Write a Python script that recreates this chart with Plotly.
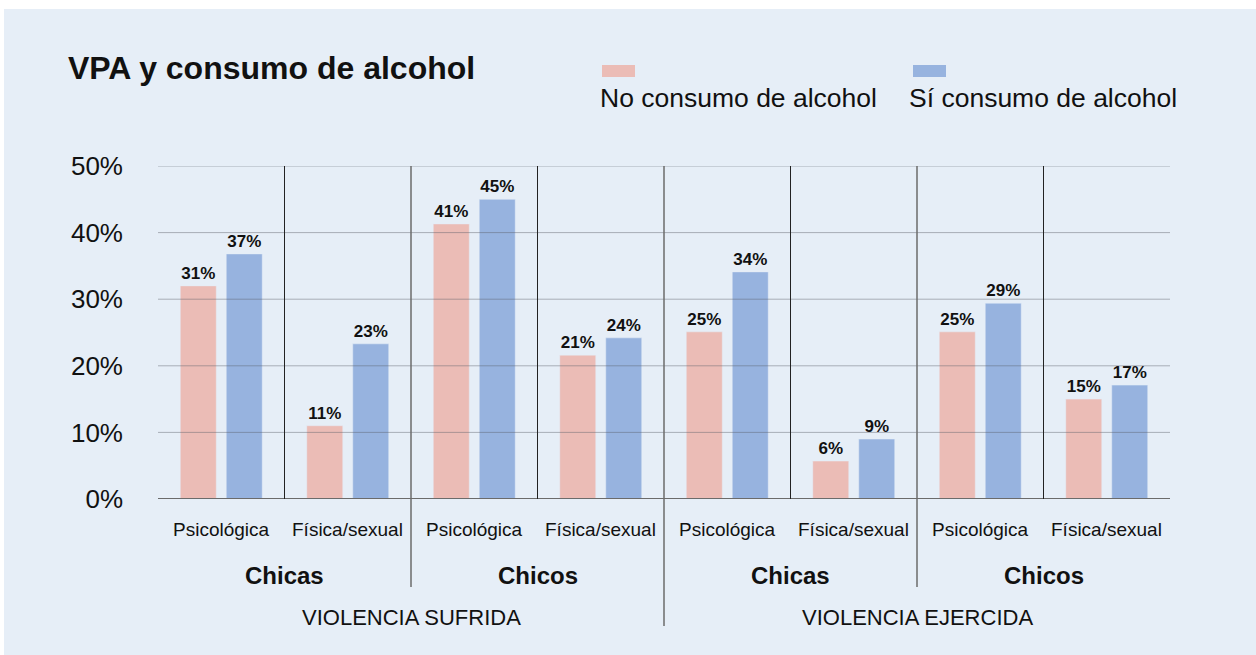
import plotly.graph_objects as go

# ---- data ----
subcategories = ["Psicológica", "Física/sexual"] * 4
genders = ["Chicas", "Chicos", "Chicas", "Chicos"]
violence_types = ["VIOLENCIA SUFRIDA", "VIOLENCIA EJERCIDA"]
series_names = ["No consumo de alcohol", "Sí consumo de alcohol"]

no_values = [32.0, 11.0, 41.3, 21.6, 25.1, 5.7, 25.1, 15.0]
si_values = [36.8, 23.3, 45.0, 24.2, 34.1, 9.0, 29.4, 17.1]
no_labels = ["31%", "11%", "41%", "21%", "25%", "6%", "25%", "15%"]
si_labels = ["37%", "23%", "45%", "24%", "34%", "9%", "29%", "17%"]

y_ticks = [0, 10, 20, 30, 40, 50]
y_ticktext = ["0%", "10%", "20%", "30%", "40%", "50%"]

title_text = "VPA y consumo de alcohol"

# ---- style ----
PINK = "#EBBCB6"
BLUE = "#97B3DF"
BG = "#E6EEF7"
TXT = "#111111"
FONT = "Liberation Sans"

W, H = 1256, 655
L, R, T, B = 158, 86, 166, 156
PW, PH = W - L - R, H - T - B


def px_x(p):
    return (p - L) / PW


def px_y(p):
    return (H - B - p) / PH


xs = list(range(len(subcategories)))

fig = go.Figure()
fig.add_trace(go.Bar(
    x=xs, y=no_values, name=series_names[0], marker_color=PINK,
    text=[f"<b>{t}</b>" for t in no_labels], textposition="outside",
    textfont=dict(size=17, color=TXT, family=FONT), cliponaxis=False,
    showlegend=False,
))
fig.add_trace(go.Bar(
    x=xs, y=si_values, name=series_names[1], marker_color=BLUE,
    text=[f"<b>{t}</b>" for t in si_labels], textposition="outside",
    textfont=dict(size=17, color=TXT, family=FONT), cliponaxis=False,
    showlegend=False,
))

shapes = []
# background panel (white edge on top/left)
shapes.append(dict(type="rect", xref="paper", yref="paper",
                   x0=px_x(4), x1=px_x(W + 5), y0=px_y(H + 5), y1=px_y(9),
                   fillcolor=BG, line=dict(width=0), layer="below"))
# gridlines (drawn over bars)
for v in y_ticks[1:]:
    shapes.append(dict(type="line", xref="paper", yref="y", x0=0, x1=1, y0=v, y1=v,
                       line=dict(color="rgba(90,95,105,0.45)", width=1), layer="above"))
# baseline
shapes.append(dict(type="line", xref="paper", yref="y", x0=0, x1=1, y0=0, y1=0,
                   line=dict(color="#6b6b6b", width=2), layer="above"))
# separators
n = len(subcategories)
for i in range(1, n):
    xb = i - 0.5
    if i % 4 == 0:
        y0 = px_y(626)
        col, w = "#6b6b6b", 1.5
    elif i % 2 == 0:
        y0 = px_y(587)
        col, w = "#6b6b6b", 1.5
    else:
        y0 = 0
        col, w = "#222222", 1
    shapes.append(dict(type="line", xref="x", yref="paper", x0=xb, x1=xb, y0=y0, y1=1,
                       line=dict(color=col, width=w), layer="above"))

# legend swatches
shapes.append(dict(type="rect", xref="paper", yref="paper",
                   x0=px_x(602), x1=px_x(635), y0=px_y(77), y1=px_y(65),
                   fillcolor=PINK, line=dict(width=0)))
shapes.append(dict(type="rect", xref="paper", yref="paper",
                   x0=px_x(913), x1=px_x(946), y0=px_y(77), y1=px_y(65),
                   fillcolor=BLUE, line=dict(width=0)))

annotations = []
# title
annotations.append(dict(text=f"<b>{title_text}</b>", xref="paper", yref="paper",
                        x=px_x(66), y=px_y(68), xanchor="left", yanchor="middle",
                        showarrow=False, font=dict(size=32, color=TXT, family=FONT)))
# legend texts
annotations.append(dict(text=series_names[0], xref="paper", yref="paper",
                        x=px_x(598), y=px_y(98), xanchor="left", yanchor="middle",
                        showarrow=False, font=dict(size=26.5, color=TXT, family=FONT)))
annotations.append(dict(text=series_names[1], xref="paper", yref="paper",
                        x=px_x(907), y=px_y(98), xanchor="left", yanchor="middle",
                        showarrow=False, font=dict(size=26.5, color=TXT, family=FONT)))
# subcategory labels
for i, s in enumerate(subcategories):
    annotations.append(dict(text=s, xref="x", yref="paper", x=i, y=px_y(529),
                            xanchor="center", yanchor="middle", showarrow=False,
                            font=dict(size=19, color=TXT, family=FONT)))
# gender labels
for j, g in enumerate(genders):
    annotations.append(dict(text=f"<b>{g}</b>", xref="x", yref="paper", x=2 * j + 0.5,
                            y=px_y(575), xanchor="center", yanchor="middle", showarrow=False,
                            font=dict(size=24, color=TXT, family=FONT)))
# violence type labels
for k, vt in enumerate(violence_types):
    annotations.append(dict(text=vt, xref="x", yref="paper", x=4 * k + 1.5,
                            y=px_y(617), xanchor="center", yanchor="middle", showarrow=False,
                            font=dict(size=22, color=TXT, family=FONT)))

fig.update_layout(
    width=W, height=H,
    margin=dict(l=L, r=R, t=T, b=B, pad=0),
    paper_bgcolor="white", plot_bgcolor=BG,
    barmode="group", bargap=0.273, bargroupgap=0.217,
    font=dict(family=FONT, color=TXT),
    xaxis=dict(range=[-0.5, n - 0.5], showticklabels=False, showgrid=False,
               zeroline=False, showline=False, ticks="", fixedrange=True),
    yaxis=dict(range=[0, 50], tickvals=y_ticks, ticktext=y_ticktext, showgrid=False,
               zeroline=False, showline=False, ticks="", ticklabelstandoff=34,
               tickfont=dict(size=26, color=TXT, family=FONT), fixedrange=True),
    shapes=shapes, annotations=annotations,
)

fig.write_html(
    "out.html",
    config={"displayModeBar": False},
    post_script="document.body.style.margin='0';document.body.style.overflow='hidden';",
)
